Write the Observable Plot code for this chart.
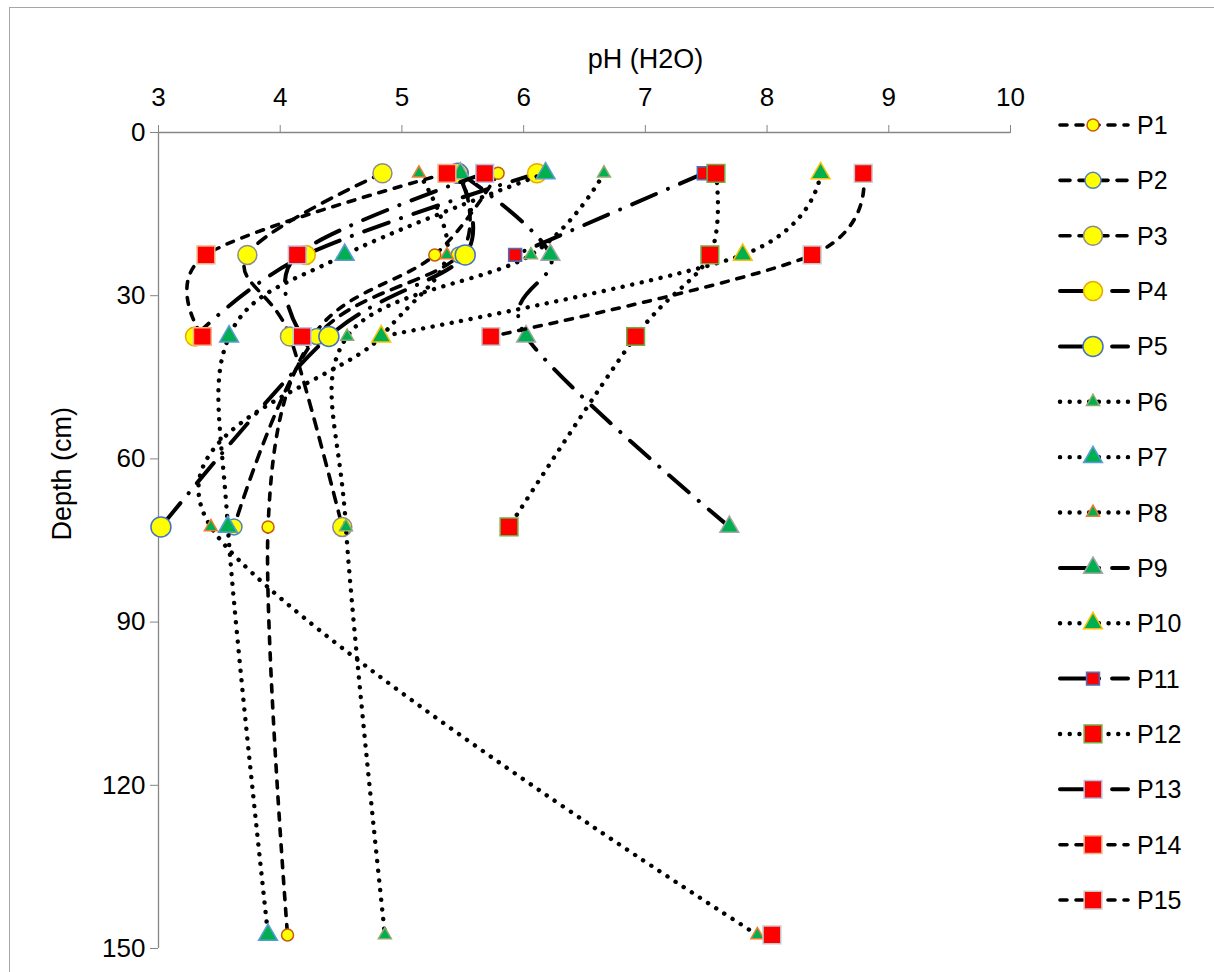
<!DOCTYPE html>
<html><head><meta charset="utf-8">
<script src="https://cdn.jsdelivr.net/npm/d3@7"></script>
<script src="https://cdn.jsdelivr.net/npm/@observablehq/plot@0.6"></script>
<style>
html,body{margin:0;padding:0;background:#fff;overflow:hidden;width:1214px;height:972px;}
#frame{position:absolute;left:9px;top:7px;width:1400px;height:1200px;border:1.5px solid #A6A6A6;box-sizing:border-box;}
#chart{position:absolute;left:0;top:0;}
#legend{position:absolute;left:0;top:0;}
</style></head><body>
<div id="frame"></div>
<div id="chart"></div>
<svg id="legend" width="1214" height="972"></svg>
<script>
// ---- data ----
const depths = [7.5, 22.5, 37.5, 72.5, 147.5];
const profiles = ["P1","P2","P3","P4","P5","P6","P7","P8","P9","P10","P11","P12","P13","P14","P15"];
const P1  = [5.79, 5.27, 4.27, 3.90, 4.06];
const P2  = [5.48, 5.47, 4.30, 3.62, null];
const P3  = [4.84, 3.73, 4.08, 4.51, null];
const P4  = [6.11, 4.21, 3.30, null, null];
const P5  = [5.46, 5.52, 4.40, 3.02, null];
const P6  = [6.66, 6.06, 4.55, 4.54, 4.86];
const P7  = [6.18, 4.53, 3.58, 3.57, 3.90];
const P8  = [5.14, 5.37, 4.83, 3.43, 7.92];
const P9  = [5.48, 6.22, 6.02, 7.69, null];
const P10 = [8.44, 7.80, 4.83, null, null];
const P11 = [7.48, 5.93, null, null, null];
const P12 = [7.58, 7.53, 6.92, 5.88, null];
const P13 = [5.68, 4.14, 4.18, null, null];
const P14 = [5.37, 3.39, 3.36, null, null];
const P15 = [8.79, 8.37, 5.73, null, 8.04];
const xTicks = [3, 4, 5, 6, 7, 8, 9, 10];
const yTicks = [0, 30, 60, 90, 120, 150];
const values = [P1,P2,P3,P4,P5,P6,P7,P8,P9,P10,P11,P12,P13,P14,P15];

// ---- styles ----
const YEL = "#FFFF00", GRN = "#00B050", RED = "#FF0000";
const DASH = "7,9", DASHL = "10,9", LDD = "26,13,0.1,13", DOT = "0.1,9.6";
const styles = [
  {sym:"circle",   r:6,   fill:YEL, stroke:"#C55A11", dash:DASH,  w:3.6},
  {sym:"circle",   r:8,   fill:YEL, stroke:"#4F81BD", dash:DASHL, w:3.6},
  {sym:"circle",   r:9.5, fill:YEL, stroke:"#8C8C8C", dash:DASHL, w:3.6},
  {sym:"circle",   r:9.5, fill:YEL, stroke:"#E8A800", dash:LDD,   w:4},
  {sym:"circle",   r:10,  fill:YEL, stroke:"#4472C4", dash:LDD,   w:4},
  {sym:"triangle", r:4.8, fill:GRN, stroke:"#8FAA6E", dash:DOT,   w:4.4},
  {sym:"triangle", r:7,   fill:GRN, stroke:"#5B9BD5", dash:DOT,   w:4.4},
  {sym:"triangle", r:4.8, fill:GRN, stroke:"#ED7D31", dash:DOT,   w:4.4},
  {sym:"triangle", r:7,   fill:GRN, stroke:"#A5A5A5", dash:LDD,   w:4},
  {sym:"triangle", r:7,   fill:GRN, stroke:"#FFC000", dash:DOT,   w:4.4},
  {sym:"square",   r:7.3, fill:RED, stroke:"#4472C4", dash:LDD,   w:4},
  {sym:"square",   r:10,  fill:RED, stroke:"#70AD47", dash:DOT,   w:4.4},
  {sym:"square",   r:10,  fill:RED, stroke:"#B4C7E7", dash:LDD,   w:4},
  {sym:"square",   r:10,  fill:RED, stroke:"#F4B183", dash:DASH,  w:3.6},
  {sym:"square",   r:10,  fill:RED, stroke:"#C9C9C9", dash:DASH,  w:3.6}
];

const FONT = "'Liberation Sans', Arial, sans-serif";
const marks = [
  Plot.ruleY([0], {stroke:"#868686", strokeWidth:1.3}),
  Plot.ruleX([3], {stroke:"#868686", strokeWidth:1.3}),
  Plot.axisX({anchor:"top", ticks:xTicks, tickFormat:d => String(d), tickSize:8, tickPadding:19, stroke:"#868686", fill:"black", fontSize:26, label:null}),
  Plot.axisY({anchor:"left", ticks:yTicks, tickFormat:d => String(d), tickSize:8, tickPadding:5, stroke:"#868686", fill:"black", fontSize:26, label:null}),
  Plot.text(["pH (H2O)"], {frameAnchor:"top", dx:61, dy:-84, fontSize:27, fill:"black", text:d=>d}),
  Plot.text(["Depth (cm)"], {frameAnchor:"left", dx:-96, rotate:-90, fontSize:27, fill:"black", text:d=>d})
];
profiles.forEach((p, i) => {
  const rows = depths.map((d, k) => ({profile:p, depth:d, ph:values[i][k]}));
  const s = styles[i];
  marks.push(Plot.line(rows, {x:"ph", y:"depth", curve:"cardinal", stroke:"black", strokeWidth:s.w,
    strokeDasharray:s.dash, strokeLinecap:"round", strokeLinejoin:"round"}));
  marks.push(Plot.dot(rows.filter(r => r.ph != null), {x:"ph", y:"depth", symbol:s.sym, r:s.r,
    fill:s.fill, stroke:s.stroke, strokeWidth:1.5}));
});

const chart = Plot.plot({
  width:1214, height:972,
  marginLeft:158, marginRight:204, marginTop:132, marginBottom:24,
  x:{domain:[3,10]},
  y:{domain:[0,150], reverse:true},
  style:{fontFamily:FONT, fontSize:"26px", background:"transparent", color:"black"},
  marks
});
document.getElementById("chart").appendChild(chart);

// ---- legend ----
const lg = d3.select("#legend");
const symMap = {circle:d3.symbolCircle, triangle:d3.symbolTriangle, square:d3.symbolSquare};
profiles.forEach((p, i) => {
  const s = styles[i];
  const y = 125 + i * 55.36;
  lg.append("line").attr("x1", 1060).attr("x2", 1128).attr("y1", y).attr("y2", y)
    .attr("stroke", "black").attr("stroke-width", s.w).attr("stroke-dasharray", s.dash)
    .attr("stroke-linecap", "round");
  lg.append("path").attr("d", d3.symbol(symMap[s.sym], Math.PI * s.r * s.r)())
    .attr("transform", `translate(1093,${y})`)
    .attr("fill", s.fill).attr("stroke", s.stroke).attr("stroke-width", 1.5);
  lg.append("text").attr("x", 1137).attr("y", y + 9).attr("font-family", FONT)
    .attr("font-size", 25).attr("fill", "black").text(p);
});
</script>
</body></html>
